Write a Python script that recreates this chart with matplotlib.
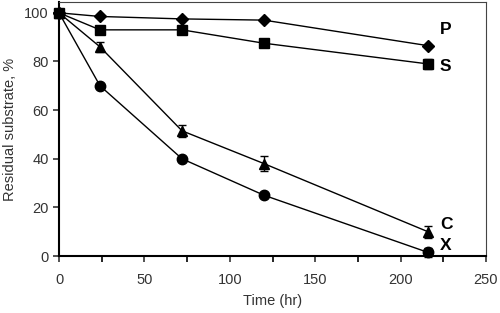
import matplotlib
matplotlib.use('Agg')
import matplotlib.pyplot as plt

plt.rcParams['font.family'] = ['Liberation Sans', 'DejaVu Sans']

time = [0, 24, 72, 120, 216]
p_vals = [100, 98.5, 97.5, 97, 86.5]
s_vals = [100, 93, 93, 87.5, 79]
c_vals = [100, 86, 51.5, 38, 10]
x_vals = [100, 70, 40, 25, 1.5]
s_err = [0, 0, 0, 0, 2]
c_err = [0, 2, 2.5, 3, 2.5]
x_err = [0, 0, 0, 0, 2]

series = [
  ('P', p_vals, None, 'D', 6),
  ('S', s_vals, s_err, 's', 6.5),
  ('C', c_vals, c_err, '^', 7),
  ('X', x_vals, x_err, 'o', 7.5),
]
label_offsets = {'P': 6.5, 'S': -1, 'C': 3, 'X': 3}

fig = plt.figure(figsize=(5, 3.13), dpi=100)
ax = fig.add_axes([0.118, 0.182, 0.854, 0.812])

for name, vals, err, marker, ms in series:
  ax.errorbar(time, vals, yerr=err, color='black', marker=marker, ms=ms,
              lw=1, capsize=3, elinewidth=1, clip_on=False, zorder=3)
  ax.text(time[-1] + 7, vals[-1] + label_offsets[name], name,
          fontsize=12.5, fontweight='bold', va='center', ha='left')

ax.set_xlim(0, 250)
ax.set_ylim(0, 104.5)
ax.set_xticks([0, 50, 100, 150, 200, 250])
ax.set_xticks([25, 75, 125, 175, 225], minor=True)
ax.set_yticks([0, 20, 40, 60, 80, 100])
ax.tick_params(labelsize=10.5, colors='#333333', length=4, width=1.2)
ax.tick_params(which='minor', length=4, width=1.2)
ax.tick_params(axis='x', pad=8)
for side in ['left', 'bottom']:
  ax.spines[side].set_linewidth(1.5)
for side in ['top', 'right']:
  ax.spines[side].set_linewidth(0.8)
  ax.spines[side].set_color('#444444')

ax.set_xlabel('Time (hr)', fontsize=10.5, color='#333333', labelpad=5)
ax.set_ylabel('Residual substrate, %', fontsize=10.5, color='#333333', labelpad=5)

fig.savefig('out.png', dpi=100)
